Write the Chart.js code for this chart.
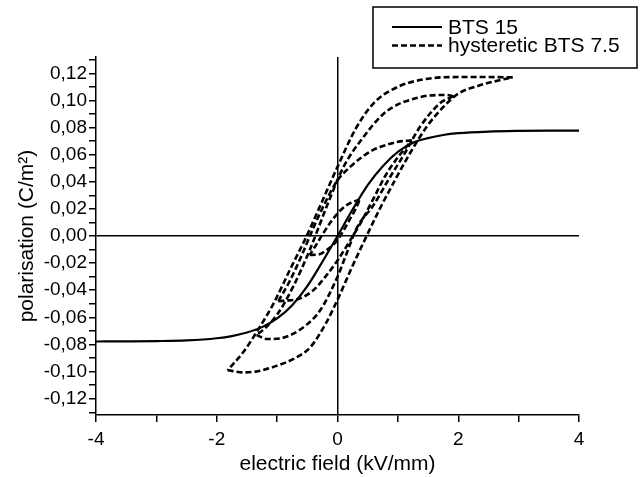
<!DOCTYPE html>
<html>
<head>
<meta charset="utf-8">
<script src="https://cdn.jsdelivr.net/npm/chart.js@4.4.0/dist/chart.umd.min.js"></script>
<style>
  html, body { margin: 0; padding: 0; background: #fff; }
  #wrap { width: 643px; height: 477px; }
</style>
</head>
<body>
<div id="wrap"><canvas id="chart" width="643" height="477"></canvas></div>
<script>
// axis ticks
const xTickValues = [-4, -3, -2, -1, 0, 1, 2, 3, 4];
const xTickLabels = ['-4', '', '-2', '', '0', '', '2', '', '4'];
const yTickValues = [-0.13, -0.12, -0.11, -0.10, -0.09, -0.08, -0.07, -0.06, -0.05, -0.04, -0.03, -0.02, -0.01, 0,
  0.01, 0.02, 0.03, 0.04, 0.05, 0.06, 0.07, 0.08, 0.09, 0.10, 0.11, 0.12, 0.13];
const yTickLabels = ['', '-0,12', '', '-0,10', '', '-0,08', '', '-0,06', '', '-0,04', '', '-0,02', '', '0,00',
  '', '0,02', '', '0,04', '', '0,06', '', '0,08', '', '0,10', '', '0,12', ''];

// BTS 15 (solid)
const bts15E = [-4, -3.5, -3, -2.5, -2, -1.75, -1.5, -1.25, -1, -0.75, -0.5, -0.25, 0,
  0.25, 0.5, 0.75, 1, 1.25, 1.5, 1.75, 2, 2.5, 3, 3.5, 4];
const bts15P = [-0.0778, -0.0777, -0.0775, -0.0770, -0.0754, -0.0738, -0.0712, -0.0672, -0.0608, -0.0510, -0.0370, -0.0190, 0,
  0.0195, 0.0375, 0.0515, 0.0620, 0.0688, 0.0722, 0.0745, 0.0758, 0.0770, 0.0775, 0.0777, 0.0777];

// hysteretic BTS 7.5, four loops (down = upper branch, up = lower branch)
const loop1DownE = [0.37, 0.2, 0.05, -0.1, -0.25, -0.36, -0.46];
const loop1DownP = [0.027, 0.024, 0.019, 0.011, 0.001, -0.007, -0.014];
const loop1UpE = [-0.46, -0.3, -0.18, 0, 0.1, 0.2, 0.3, 0.37];
const loop1UpP = [-0.014, -0.0135, -0.0103, -0.003, 0.004, 0.012, 0.020, 0.027];

const loop2DownE = [1.23, 1.0, 0.8, 0.59, 0.4, 0.21, 0, -0.2, -0.4, -0.6, -0.8, -0.98];
const loop2DownP = [0.0705, 0.0695, 0.067, 0.0635, 0.058, 0.051, 0.041, 0.025, 0.006, -0.015, -0.034, -0.048];
const loop2UpE = [-0.98, -0.8, -0.62, -0.4, -0.2, 0, 0.2, 0.4, 0.6, 0.8, 1.0, 1.23];
const loop2UpP = [-0.048, -0.0475, -0.046, -0.040, -0.030, -0.018, -0.004, 0.011, 0.028, 0.045, 0.058, 0.0705];

const loop3DownE = [1.92, 1.8, 1.5, 1.25, 1.0, 0.76, 0.43, 0.1, -0.15, -0.46, -0.73, -1.0, -1.2, -1.34];
const loop3DownP = [0.103, 0.104, 0.1035, 0.101, 0.097, 0.090, 0.073, 0.051, 0.025, -0.0103, -0.037, -0.058, -0.068, -0.073];
const loop3UpE = [-1.34, -1.17, -0.95, -0.73, -0.5, -0.29, 0, 0.15, 0.32, 0.6, 0.85, 1.1, 1.37, 1.7, 1.92];
const loop3UpP = [-0.073, -0.076, -0.0755, -0.072, -0.065, -0.055, -0.030, -0.013, 0.006, 0.023, 0.042, 0.060, 0.0807, 0.098, 0.103];

const loop4DownE = [2.9, 2.5, 2.0, 1.5, 1.0, 0.6, 0.3, 0, -0.25, -0.5, -0.8, -1.05, -1.3, -1.55, -1.82];
const loop4DownP = [0.117, 0.1172, 0.1172, 0.116, 0.110, 0.098, 0.079, 0.051, 0.026, 0.001, -0.026, -0.049, -0.068, -0.085, -0.099];
const loop4UpE = [-1.82, -1.56, -1.3, -1.0, -0.7, -0.45, -0.2, 0, 0.25, 0.45, 0.7, 0.95, 1.2, 1.48, 1.75, 2.0, 2.35, 2.6, 2.9];
const loop4UpP = [-0.099, -0.1006, -0.0995, -0.0956, -0.090, -0.082, -0.065, -0.047, -0.022, -0.003, 0.020, 0.041, 0.061, 0.0807, 0.095, 0.105, 0.111, 0.114, 0.117];

const FONT = '"Liberation Sans", Arial, Helvetica, sans-serif';
const zip = (xs, ys) => xs.map((x, i) => ({ x: x, y: ys[i] }));

const solid = (label, e, p) => ({
  label: label, data: zip(e, p), showLine: true, pointRadius: 0,
  borderColor: '#000', borderWidth: 2.2, cubicInterpolationMode: 'monotone', fill: false
});
const dashed = (label, e, p) => ({
  label: label, data: zip(e, p), showLine: true, pointRadius: 0,
  borderColor: '#000', borderWidth: 2.6, borderDash: [6, 3], cubicInterpolationMode: 'monotone', fill: false
});

const datasets = [
  solid('BTS 15', bts15E, bts15P),
  dashed('hysteretic BTS 7.5', loop4DownE, loop4DownP),
  dashed('', loop4UpE, loop4UpP),
  dashed('', loop3DownE, loop3DownP),
  dashed('', loop3UpE, loop3UpP),
  dashed('', loop2DownE, loop2DownP),
  dashed('', loop2UpE, loop2UpP),
  dashed('', loop1DownE, loop1DownP),
  dashed('', loop1UpE, loop1UpP)
];

// boxed legend in the top right, like the original figure
const legendBox = {
  id: 'legendBox',
  afterDraw(chart) {
    const ctx = chart.ctx;
    const items = chart.data.datasets.filter(d => d.label);
    ctx.save();
    ctx.fillStyle = '#fff';
    ctx.fillRect(373, 7, 264, 61);
    ctx.strokeStyle = '#000';
    ctx.lineWidth = 1.5;
    ctx.strokeRect(373, 7, 264, 61);
    ctx.font = '21px ' + FONT;
    ctx.textBaseline = 'middle';
    ctx.fillStyle = '#000';
    items.forEach((d, i) => {
      const y = 27 + i * 18.5;
      ctx.setLineDash(d.borderDash || []);
      ctx.lineWidth = d.borderWidth;
      ctx.beginPath();
      ctx.moveTo(392, y);
      ctx.lineTo(442, y);
      ctx.stroke();
      ctx.setLineDash([]);
      ctx.fillText(d.label, 448, y + 1);
    });
    ctx.restore();
  }
};

const zeroLine = ctx => (ctx.tick && ctx.tick.value === 0) ? '#000' : 'rgba(0,0,0,0)';

new Chart(document.getElementById('chart'), {
  type: 'scatter',
  data: { datasets: datasets },
  options: {
    responsive: false,
    animation: false,
    layout: { padding: { top: 57, right: 64, left: 0, bottom: 0 } },
    plugins: { legend: { display: false }, tooltip: { enabled: false } },
    scales: {
      x: {
        type: 'linear', min: -4, max: 4,
        afterBuildTicks: s => { s.ticks = xTickValues.map(v => ({ value: v })); },
        afterFit: s => { s.height = 62; },
        grid: { color: zeroLine, lineWidth: 1.5, tickColor: '#000', tickLength: 7, drawOnChartArea: true },
        border: { display: true, color: '#000', width: 1.5 },
        ticks: {
          color: '#000', padding: 6, maxRotation: 0, autoSkip: false,
          font: { family: FONT, size: 19 },
          callback: (v) => xTickLabels[xTickValues.indexOf(v)]
        },
        title: { display: true, text: 'electric field (kV/mm)', color: '#000', font: { family: FONT, size: 21 }, padding: 0 }
      },
      y: {
        type: 'linear', min: -0.132, max: 0.132,
        afterBuildTicks: s => { s.ticks = yTickValues.map(v => ({ value: v })); },
        afterFit: s => { s.width = 96; },
        grid: { color: zeroLine, lineWidth: 1.5, tickColor: '#000', tickLength: 7, drawOnChartArea: true },
        border: { display: true, color: '#000', width: 1.5 },
        ticks: {
          color: '#000', padding: 2, autoSkip: false,
          font: { family: FONT, size: 19 },
          callback: (v) => yTickLabels[yTickValues.indexOf(v)]
        },
        title: { display: true, text: 'polarisation (C/m²)', color: '#000', font: { family: FONT, size: 21 }, padding: { top: 15, bottom: 0 } }
      }
    }
  },
  plugins: [legendBox]
});
</script>
</body>
</html>
